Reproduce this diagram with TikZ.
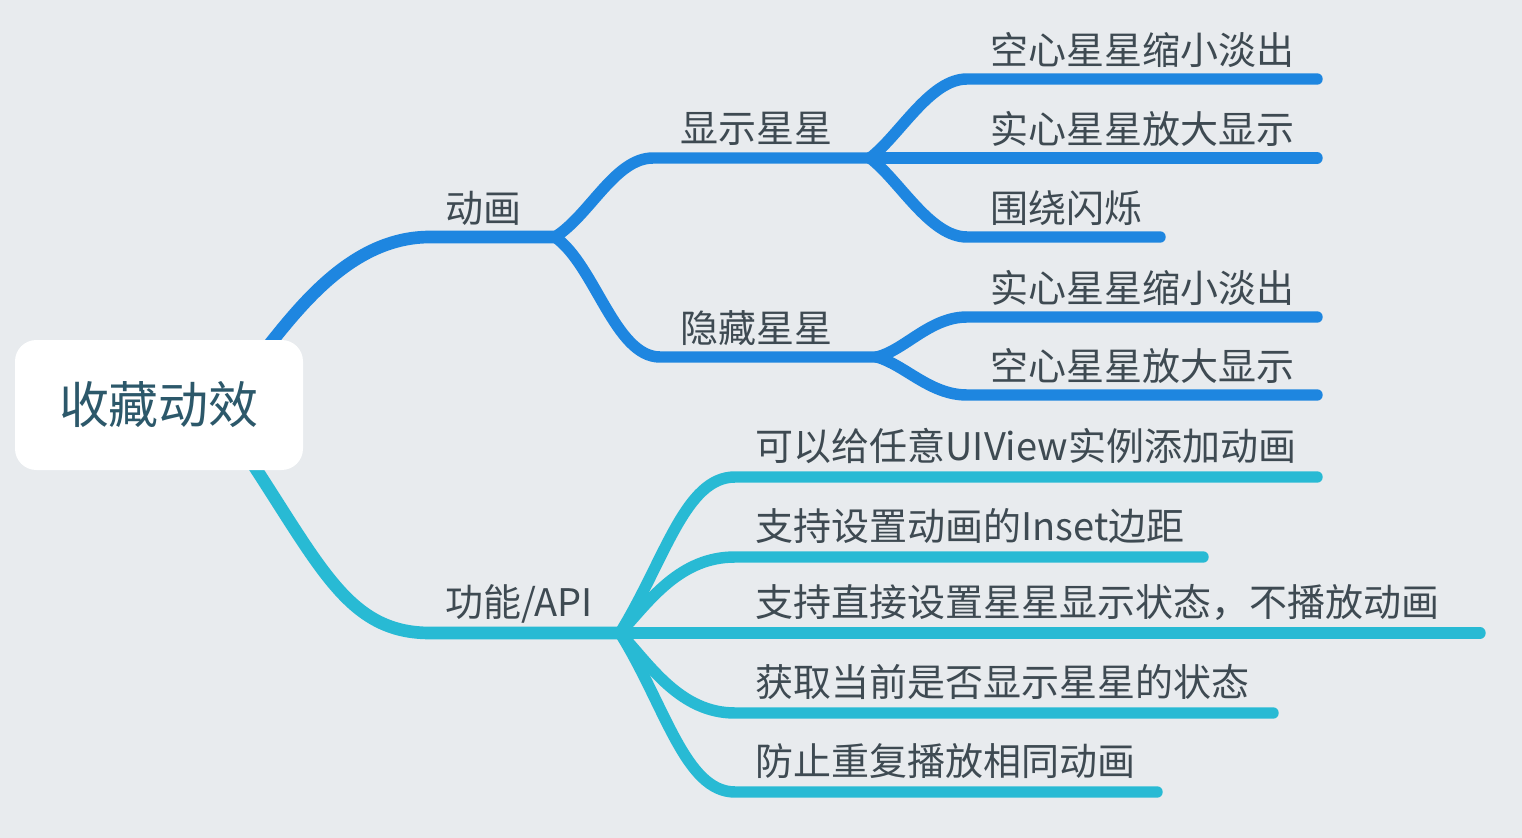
\documentclass[tikz,border=0pt]{standalone}
\usepackage{fontspec}
\setmainfont{Noto Sans CJK SC}
\usetikzlibrary{backgrounds}

\definecolor{bgc}{RGB}{232,235,238}
\definecolor{blueb}{RGB}{30,134,224}
\definecolor{cyanb}{RGB}{40,186,212}
\definecolor{txt}{RGB}{62,74,82}
\definecolor{roottxt}{RGB}{44,88,106}

\tikzset{every picture/.style={line width=0.75pt}}
\tikzset{
  lbl/.style={anchor=west, inner sep=0pt, text=txt, font=\fontsize{28.5}{34}\selectfont},
  bluebr/.style={draw=blueb, line width=8.6pt, line cap=round, line join=round},
  cyanbr/.style={draw=cyanb, line width=8.6pt, line cap=round, line join=round}
}

\begin{document}
\begin{tikzpicture}[x=0.75pt,y=0.75pt,yscale=-1,xscale=1]
\useasboundingbox (0,0) rectangle (1522,838);

%Root box
\node [fill=white, rounded corners=16pt, minimum width=216pt, minimum height=97.5pt, inner sep=0pt, text=roottxt, font=\fontsize{37.5}{45}\selectfont] (root) at (159,405) {收藏动效};

%Branch points and line ends
\coordinate (rootA) at ([shift={(-38,10)}]root.north east);
\coordinate (rootF) at ([shift={(-53,-10)}]root.south east);
\coordinate (animS) at (430,237);
\coordinate (anim) at (555,237);
\coordinate (showS) at (653,158);
\coordinate (show) at (870,158);
\coordinate (hideS) at (660,357);
\coordinate (hide) at (877,357);
\coordinate (b1S) at (967,79);
\coordinate (b1E) at (1317,79);
\coordinate (b2S) at (967,158);
\coordinate (b2E) at (1317,158);
\coordinate (b3S) at (967,237);
\coordinate (b3E) at (1160,237);
\coordinate (b4S) at (967,317);
\coordinate (b4E) at (1317,317);
\coordinate (b5S) at (967,395);
\coordinate (b5E) at (1317,395);
\coordinate (apiS) at (430,633);
\coordinate (api) at (620,633);
\coordinate (c1S) at (735,477);
\coordinate (c1E) at (1317,477);
\coordinate (c2S) at (735,557);
\coordinate (c2E) at (1203,557);
\coordinate (c3S) at (735,633);
\coordinate (c3E) at (1480,633);
\coordinate (c4S) at (735,713);
\coordinate (c4E) at (1273,713);
\coordinate (c5S) at (735,792);
\coordinate (c5E) at (1157,792);

\begin{scope}[on background layer]
\fill [bgc] (0,0) rectangle (1522,838);

%Blue branch
\draw [bluebr, line width=9.5pt] (rootA) .. controls +(38,-48) and +(-75,0) .. (animS) -- (anim);
\draw [bluebr] (anim) .. controls +(35,-22) and +(-38,0) .. (showS) -- (show);
\draw [bluebr] (anim) .. controls +(40,28) and +(-45,0) .. (hideS) -- (hide);
\draw [bluebr] (show) .. controls +(30,-23) and +(-37,0) .. (b1S) -- (b1E);
\draw [bluebr] (show) -- (b2E);
\draw [bluebr] (show) .. controls +(30,23) and +(-37,0) .. (b3S) -- (b3E);
\draw [bluebr] (hide) .. controls +(28,-7) and +(-37,0) .. (b4S) -- (b4E);
\draw [bluebr] (hide) .. controls +(28,8) and +(-37,0) .. (b5S) -- (b5E);

%Cyan branch
\draw [cyanbr, line width=9.5pt] (rootF) .. controls +(72,110) and +(-80,0) .. (apiS) -- (api);
\draw [cyanbr] (api) .. controls +(45,-73) and +(-50,0) .. (c1S) -- (c1E);
\draw [cyanbr] (api) .. controls +(30,-33) and +(-55,0) .. (c2S) -- (c2E);
\draw [cyanbr] (api) -- (c3E);
\draw [cyanbr] (api) .. controls +(30,32) and +(-55,0) .. (c4S) -- (c4E);
\draw [cyanbr] (api) .. controls +(45,72) and +(-50,0) .. (c5S) -- (c5E);
\end{scope}

% Text Node
\node [lbl] (tAnim) at ([shift={(15,-29)}]animS) {动画};
\node [lbl] (tShow) at ([shift={(27,-29)}]showS) {显示星星};
\node [lbl] (tHide) at ([shift={(20,-29)}]hideS) {隐藏星星};
\node [lbl] (tB1) at ([shift={(23,-29)}]b1S) {空心星星缩小淡出};
\node [lbl] (tB2) at ([shift={(23,-29)}]b2S) {实心星星放大显示};
\node [lbl] (tB3) at ([shift={(23,-29)}]b3S) {围绕闪烁};
\node [lbl] (tB4) at ([shift={(23,-29)}]b4S) {实心星星缩小淡出};
\node [lbl] (tB5) at ([shift={(23,-29)}]b5S) {空心星星放大显示};
\node [lbl] (tApi) at ([shift={(15,-29)}]apiS) {功能/API};
\node [lbl] (tC1) at ([shift={(20,-31)}]c1S) {可以给任意UIView实例添加动画};
\node [lbl] (tC2) at ([shift={(20,-31)}]c2S) {支持设置动画的Inset边距};
\node [lbl] (tC3) at ([shift={(20,-31)}]c3S) {支持直接设置星星显示状态，不播放动画};
\node [lbl] (tC4) at ([shift={(20,-31)}]c4S) {获取当前是否显示星星的状态};
\node [lbl] (tC5) at ([shift={(20,-31)}]c5S) {防止重复播放相同动画};

\end{tikzpicture}
\end{document}
